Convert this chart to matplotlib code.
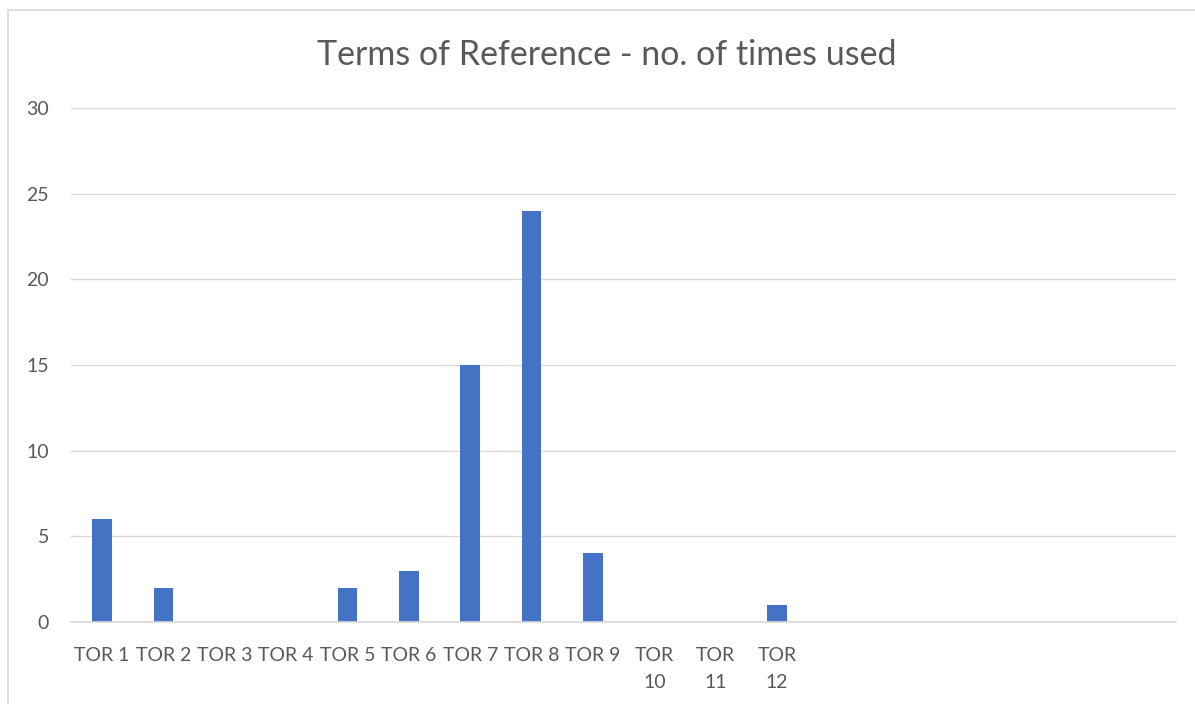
import matplotlib
matplotlib.use("Agg")
import matplotlib.pyplot as plt
from matplotlib.patches import Rectangle

categories = ["TOR 1", "TOR 2", "TOR 3", "TOR 4", "TOR 5", "TOR 6",
              "TOR 7", "TOR 8", "TOR 9", "TOR 10", "TOR 11", "TOR 12",
              "", "", "", "", "", ""]
values = [6, 2, 0, 0, 2, 3, 15, 24, 4, 0, 0, 1, 0, 0, 0, 0, 0, 0]
title = "Terms of Reference - no. of times used"
yticks = [0, 5, 10, 15, 20, 25, 30]

plt.rcParams['font.family'] = ['Lato', 'DejaVu Sans']
W, H = 1195, 704
fig = plt.figure(figsize=(W / 100, H / 100), dpi=100)
ax = fig.add_axes([71.3 / W, 1 - 622 / H, (1176 - 71.3) / W, (622 - 108) / H])

x = list(range(len(categories)))
ax.bar(x, values, width=0.32, color="#4472C4", zorder=3)
ax.set_xlim(-0.5, len(categories) - 0.5)
ax.set_ylim(0, 30)
ax.set_yticks(yticks)
ax.set_yticklabels([str(v) for v in yticks])
labels = [c.replace(" ", "\n") if len(c) > 5 else c for c in categories]
ax.set_xticks(x)
ax.set_xticklabels(labels, linespacing=1.75, va="top")
ax.tick_params(axis="both", length=0, labelsize=14, labelcolor="#595959")
ax.tick_params(axis="x", pad=18)
ax.tick_params(axis="y", pad=16)
for lab in ax.get_yticklabels():
    lab.set_horizontalalignment("right")
ax.grid(axis="y", color="#d9d9d9", linewidth=1, zorder=0)
for s in ["top", "right", "left"]:
    ax.spines[s].set_visible(False)
ax.spines["bottom"].set_color("#d9d9d9")
ax.spines["bottom"].set_linewidth(1.2)
ax.spines["bottom"].set_zorder(4)

fig.text(607 / W, 1 - 55 / H, title, ha="center", va="center",
         fontsize=24.5, color="#595959")

fig.patches.append(Rectangle((8 / W, -0.1), 1.2, 1 - 10 / H + 0.1,
                             transform=fig.transFigure, fill=False,
                             edgecolor="#d9d9d9", linewidth=1.2))

fig.savefig("out.png", dpi=100)
